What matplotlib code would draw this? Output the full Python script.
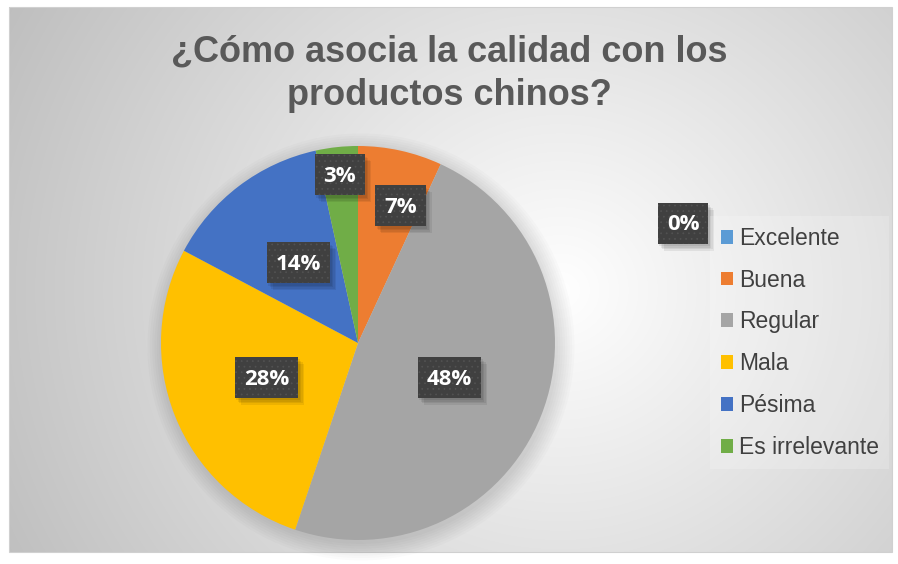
import numpy as np
import matplotlib.pyplot as plt
from matplotlib.patches import Rectangle, Circle
from matplotlib.transforms import IdentityTransform

# data
categories = ['Excelente', 'Buena', 'Regular', 'Mala', 'Pésima', 'Es irrelevante']
counts = [0, 2, 14, 8, 4, 1]
colors = ['#5B9BD5', '#ED7D31', '#A5A5A5', '#FFC000', '#4472C4', '#70AD47']
label_radius = [0.0, 0.72, 0.5, 0.5, 0.5, 0.85]
label_shift_deg = [0, 5, 0, 0, 0, 0]
title = '¿Cómo asocia la calidad con los\nproductos chinos?'

plt.rcParams['hatch.linewidth'] = 0.5

W, H = 898, 564
fig = plt.figure(figsize=(W / 100, H / 100), dpi=100)
fig.patch.set_facecolor('white')

# background with radial gradient
bg = fig.add_axes([0, 0, 1, 1])
bg.set_xlim(0, W)
bg.set_ylim(H, 0)
bg.axis('off')
x0, x1, y0, y1 = 9, 892, 7, 552
xx, yy = np.meshgrid(np.arange(x0, x1), np.arange(y0, y1))
d = np.hypot((xx - 560) / 1.0, (yy - 290) / 0.95)
g = np.clip(1 - 0.25 * (d / 620), 0, 1)
img = np.dstack([g, g, g])
bg.imshow(img, extent=(x0, x1, y1, y0), interpolation='bilinear', aspect='auto')
bg.add_patch(Rectangle((x0, y0), x1 - x0, y1 - y0, fill=False, edgecolor='#d0d0d0', lw=0.8))

fig.text(0.5, 1 - 74 / H, title, ha='center', va='center', fontsize=26, fontweight='bold',
         color='#595959', family='Liberation Sans', linespacing=1.32)

# pie
cx, cy, r = 358, 343, 197
ax = fig.add_axes([(cx - r) / W, 1 - (cy + r) / H, 2 * r / W, 2 * r / H])
ax.axis('off')

# soft shadow under the pie
for k in range(8):
    ax.add_patch(Circle((0.015, -0.02), 1.0 + 0.012 * k, color='black', alpha=0.016, lw=0,
                        zorder=0, clip_on=False))

wedges, _ = ax.pie(counts, colors=colors, startangle=90, counterclock=False, radius=1,
                   wedgeprops=dict(linewidth=0))
for w in wedges:
    w.set_zorder(2)
    w.set_clip_on(False)
ax.set_xlim(-1, 1)
ax.set_ylim(-1, 1)

total = sum(counts)
texts = []
for i, w in enumerate(wedges):
    pct = f'{round(100 * counts[i] / total)}%'
    kw = dict(ha='center', va='center', fontsize=16, fontweight='bold', color='white',
              family='Open Sans', zorder=6)
    if counts[i] == 0:
        t = fig.text(683 / W, 1 - 225 / H, pct, **kw)
    else:
        th = np.deg2rad((w.theta1 + w.theta2) / 2 - label_shift_deg[i])
        t = ax.text(label_radius[i] * np.cos(th), label_radius[i] * np.sin(th), pct, **kw)
    texts.append(t)


def put(artist, t):
    if t.axes is not None:
        t.axes.add_artist(artist)
    else:
        fig.add_artist(artist)
    artist.set_transform(IdentityTransform())
    artist.set_clip_on(False)


# dark label boxes sized around the text (pixels), with a soft shadow
fig.canvas.draw()
for t in texts:
    bb = t.get_window_extent()
    bw, bh = bb.width + 18, 41
    xc, yc = (bb.x0 + bb.x1) / 2, (bb.y0 + bb.y1) / 2 + 2
    for o in (6, 4.5, 3, 1.5):
        put(Rectangle((xc - bw / 2 + o, yc - bh / 2 - o - 1), bw, bh,
                      facecolor='black', alpha=0.07, lw=0, zorder=4), t)
    put(Rectangle((xc - bw / 2, yc - bh / 2), bw, bh,
                  facecolor='#404040', edgecolor='#525252', hatch='...', lw=0, zorder=5), t)

leg = fig.legend(wedges, categories, loc='upper left', bbox_to_anchor=(699 / W, 1 - 205 / H),
                 frameon=True, handlelength=0.55, handleheight=0.55,
                 handletextpad=0.25, labelspacing=0.82, borderpad=0.45,
                 prop=dict(family='Liberation Sans', size=16.5))
leg.get_frame().set_facecolor('white')
leg.get_frame().set_alpha(0.2)
leg.get_frame().set_linewidth(0)
leg.get_frame().set_boxstyle('square,pad=0')
for t in leg.get_texts():
    t.set_color('#404040')

fig.savefig('out.png', dpi=100)
